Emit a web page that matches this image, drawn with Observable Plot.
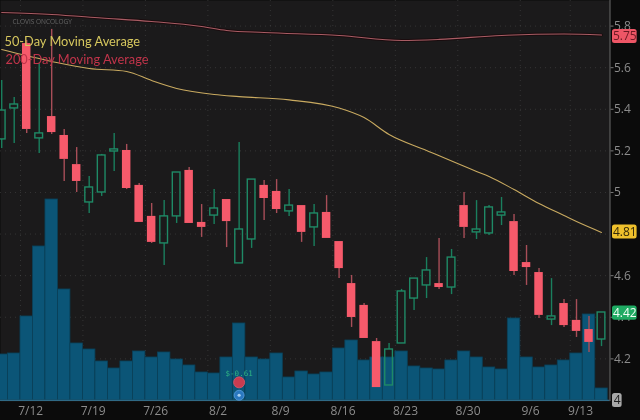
<!DOCTYPE html>
<html>
<head>
<meta charset="utf-8">
<script src="https://cdn.jsdelivr.net/npm/d3@7"></script>
<script src="https://cdn.jsdelivr.net/npm/@observablehq/plot@0.6"></script>
<style>
html,body{margin:0;padding:0;background:#0b0b0b;overflow:hidden}
svg{display:block;filter:blur(.35px)}
</style>
</head>
<body>
<div id="chart"></div>
<script>
// Trading-day index: 0 = 7/12
const firstIndex = -2;
const open  = [5.255,5.404,5.716,5.260,5.365,5.274,5.134,4.952,5.000,5.197,5.202,5.034,4.885,4.755,4.885,5.106,4.856,4.889,4.966,4.659,4.774,5.034,5.005,4.909,4.937,4.832,4.904,4.764,4.562,4.457,4.283,4.072,4.274,4.490,4.553,4.562,4.543,4.937,4.808,4.803,4.889,4.860,4.663,4.615,4.389,4.466,4.385,4.341,4.293];
const close = [5.394,5.423,5.303,5.284,5.288,5.159,5.053,5.024,5.178,5.207,5.019,4.856,4.760,4.885,5.096,4.851,4.832,4.923,4.860,4.822,5.062,4.971,4.918,4.937,4.808,4.899,4.779,4.634,4.399,4.298,4.062,4.245,4.524,4.586,4.625,4.543,4.687,4.832,4.822,4.928,4.904,4.620,4.639,4.409,4.404,4.360,4.332,4.279,4.423];
const high  = [5.538,5.457,5.731,5.620,5.784,5.303,5.216,5.077,5.183,5.284,5.231,5.043,4.947,4.961,5.096,5.120,4.942,5.014,4.966,5.240,5.062,5.058,5.062,5.014,4.937,4.942,4.985,4.764,4.601,4.466,4.298,4.274,4.534,4.586,4.687,4.779,4.726,5.000,4.961,4.937,4.976,4.894,4.745,4.634,4.586,4.485,4.485,4.404,4.423];
const low   = [5.211,5.235,5.284,5.187,5.279,5.053,5.000,4.899,4.981,5.101,5.014,4.856,4.755,4.649,4.851,4.851,4.784,4.846,4.735,4.659,4.731,4.865,4.899,4.885,4.760,4.740,4.779,4.586,4.351,4.298,4.062,4.072,4.274,4.433,4.490,4.534,4.509,4.779,4.774,4.793,4.841,4.601,4.553,4.394,4.360,4.351,4.303,4.231,4.259];
const volume = [.46,.47,.84,1.54,2.01,1.11,.57,.51,.39,.32,.39,.49,.43,.48,.41,.35,.28,.27,.43,.77,.43,.41,.47,.23,.29,.26,.28,.52,.60,.40,.43,.43,.49,.34,.32,.31,.40,.49,.43,.33,.31,.82,.43,.33,.35,.40,.47,.86,.12];

const ma50Days   = [-2,2,5,8,10,12,15,17,21,25,27,29,32,36,37,39,41,43,44,46];
const ma50Values = [5.687,5.630,5.596,5.582,5.538,5.500,5.471,5.461,5.445,5.406,5.360,5.279,5.202,5.101,5.077,5.014,4.947,4.889,4.860,4.808];
const ma200Days   = [-2,2,6,10,14,16,19,25,30,33,38,43,46];
const ma200Values = [5.865,5.856,5.839,5.822,5.798,5.779,5.769,5.755,5.731,5.736,5.755,5.762,5.757];

const weekDays   = [0,5,10,15,20,25,30,35,40,44];
const weekLabels = ["7/12","7/19","7/26","8/2","8/9","8/16","8/23","8/30","9/6","9/13"];
const priceTicks = [5.8,5.6,5.4,5.2,5,4.6,4.4,4.2];
const priceGrid  = [5.8,5.6,5.4,5.2,5,4.8,4.6,4.4,4.2];
const priceTags  = [5.75,4.81,4.42,4];
const tagText    = ["5.75","4.81","4.42","4"];
const tagFill    = ["#ee5666","#eec02c","#1eaa62","#a8a8a8"];
const tagInk     = ["#6d1a24","#33290a","#f2fff6","#1c1c1c"];
const earningsDay = 17;

const volBase = 4.0;
const volPrice = v => volBase + v * 100 / 208;

const candles = open.map((o, k) => ({
  i: firstIndex + k, o, c: close[k], h: high[k], l: low[k], v: volume[k],
  up: close[k] >= o, top: Math.max(o, close[k]), bot: Math.min(o, close[k])
}));
const ups = candles.filter(d => d.up), downs = candles.filter(d => !d.up);
const line = (days, vals) => days.map((i, k) => ({i, p: vals[k]}));
const ma50 = line(ma50Days, ma50Values), ma200 = line(ma200Days, ma200Values);
const tags = priceTags.map((p, k) => ({p, t: tagText[k], f: tagFill[k], ink: tagInk[k], short: p === 4}));

const GREEN = "#1f8a66", GREENW = "#1a7f5e", RED = "#f65a6b", REDW = "#a84e58";
const BLUE = "#0b5577";

const chart = Plot.plot({
  width: 640, height: 420,
  marginTop: 0, marginLeft: 0, marginRight: 30.5, marginBottom: 19,
  style: {background: "#0b0b0b", fontFamily: "'Open Sans', sans-serif"},
  x: {type: "linear", domain: [-2.097, 46.68], label: null},
  y: {domain: [3.995, 5.923], label: null},
  marks: [
    Plot.frame({fill: "#1b1a1b", stroke: null}),
    Plot.gridY(priceGrid, {stroke: "#5c5c5c", strokeOpacity: .4, strokeDasharray: "1 4"}),
    Plot.gridX(weekDays.map(d => d - .5), {stroke: "#5c5c5c", strokeOpacity: .4, strokeDasharray: "1 4"}),

    Plot.rect(candles, {x1: d => d.i - .5, x2: d => d.i + .5, y1: volBase, y2: d => volPrice(d.v), fill: BLUE, stroke: "#0a4058", strokeWidth: .8}),
    Plot.ruleY([volBase], {stroke: "#2f6a86", strokeWidth: 1.2}),
    Plot.ruleX([46.68], {stroke: "#6a6a6a", strokeWidth: 1}),

    Plot.line(ma200, {x: "i", y: "p", stroke: "#1a0c0e", strokeWidth: 3, curve: "monotone-x"}),
    Plot.line(ma200, {x: "i", y: "p", stroke: "#a85c64", strokeWidth: 1.1, curve: "monotone-x"}),
    Plot.line(ma50, {x: "i", y: "p", stroke: "#c9aa60", strokeWidth: 1.1, curve: "monotone-x"}),

    Plot.ruleX(ups, {x: "i", y1: "top", y2: "h", stroke: GREENW, strokeWidth: 1.4}),
    Plot.ruleX(ups, {x: "i", y1: "bot", y2: "l", stroke: GREENW, strokeWidth: 1.4}),
    Plot.ruleX(downs, {x: "i", y1: "top", y2: "h", stroke: REDW, strokeWidth: 1.4}),
    Plot.ruleX(downs, {x: "i", y1: "bot", y2: "l", stroke: REDW, strokeWidth: 1.4}),
    Plot.rect(ups, {x1: d => d.i - .5, x2: d => d.i + .5, y1: "bot", y2: "top", insetLeft: 2.4, insetRight: 2.4, fill: "none", stroke: GREEN, strokeWidth: 1.4}),
    Plot.rect(downs, {x1: d => d.i - .5, x2: d => d.i + .5, y1: "bot", y2: "top", insetLeft: 2, insetRight: 2, fill: RED}),

    Plot.text(["$-0.61"], {x: earningsDay, y: 4.131, fill: "#2fb584", fontSize: 7.5, fontFamily: "'DejaVu Sans Mono', monospace"}),
    Plot.dot([earningsDay], {x: d => d, y: 4.087, r: 5.5, fill: "#c83c50", stroke: "#e0566a", strokeWidth: .8}),
    Plot.dot([earningsDay], {x: d => d, y: 4.025, r: 5, fill: "#2a78c0", stroke: "#5aa0e0", strokeWidth: .8}),
    Plot.dot([earningsDay], {x: d => d, y: 4.025, r: 1.6, fill: "#a8d0f0"}),

    Plot.axisY(priceTicks, {anchor: "right", tickSize: 3, tickPadding: 1, stroke: "#777", fill: "#8c8c8c", fontSize: 12, label: null, tickFormat: d => String(d)}),
    Plot.axisX(weekDays, {anchor: "bottom", tickSize: 0, tickPadding: 5, fill: "#8c8c8c", fontSize: 12, dx: 4, label: null, tickFormat: d => weekLabels[weekDays.indexOf(d)]}),

    Plot.rect(tags, {x1: 46.88, x2: d => d.short ? 47.65 : 48.85, y1: d => d.p - .034, y2: d => d.p + .034, fill: "f", rx: 2.5}),
    Plot.text(tags, {x: d => d.short ? 47.26 : 47.87, y: "p", text: "t", fill: "ink", fontSize: 12}),

    Plot.text(["CLOVIS ONCOLOGY"], {frameAnchor: "top-left", dx: 12, dy: 21, fill: "#666", fontSize: 6.5, textAnchor: "start", lineAnchor: "middle"}),
    Plot.text(["50-Day Moving Average"], {frameAnchor: "top-left", dx: 4, dy: 41, fill: "#d6c75e", fontSize: 12.8, fontFamily: "Lato, sans-serif", textAnchor: "start", lineAnchor: "middle"}),
    Plot.text(["200-Day Moving Average"], {frameAnchor: "top-left", dx: 5, dy: 59, fill: "#c0344a", fontSize: 12.8, fontFamily: "Lato, sans-serif", textAnchor: "start", lineAnchor: "middle"})
  ]
});
document.getElementById("chart").append(chart);
</script>
</body>
</html>
